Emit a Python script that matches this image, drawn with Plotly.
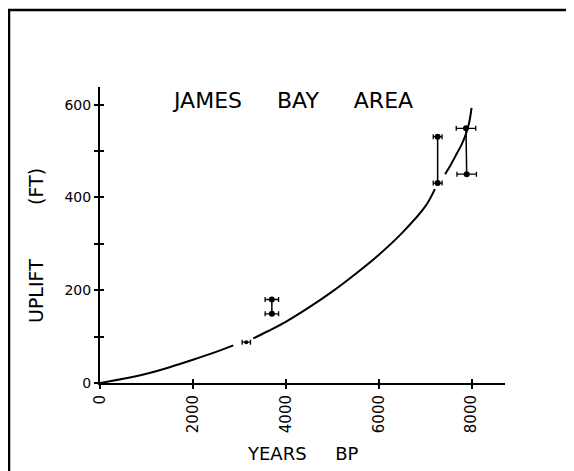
import plotly.graph_objects as go

# Fitted uplift curve, gaps as None
curve_years = [0, 500, 1000, 1500, 2000, 2500, 2870, None,
               3300, 3600, 4000, 4500, 5000, 5500, 6000, 6500, 7000, 7210, None,
               7430, 7550, 7680, 7790, 7880, 7950, 8000]
curve_uplift = [0, 9, 20, 34, 50, 67, 81, None,
                96, 111, 132, 163, 197, 235, 276, 323, 380, 418, None,
                450, 470, 494, 515, 537, 562, 593]

# Single dated point
single_years = [3150]
single_uplift = [88]
single_err = [90]

# Paired dated points (upper / lower)
pair_years_top = [3700, 7270, 7880]
pair_uplift_top = [180, 531, 549]
pair_years_bot = [3700, 7270, 7895]
pair_uplift_bot = [149, 431, 450]
pair_err = [145, 95, 210]

x_ticks = [0, 2000, 4000, 6000, 8000]
x_labels = ["0", "2000", "4000", "6000", "8000"]
y_ticks = [0, 100, 200, 300, 400, 500, 600]
y_labels = ["0", "", "200", "", "400", "", "600"]

# page has an 8px body margin: figure pixel = page pixel - 8
OFF = 8
W, H = 574 - OFF, 471 - OFF
L, R, T, B = 100 - OFF, 505 - OFF, 87 - OFF, 383 - OFF

fig = go.Figure()

fig.add_trace(go.Scatter(x=curve_years, y=curve_uplift, mode="lines",
                         line=dict(color="black", width=2, shape="spline", smoothing=1.0),
                         connectgaps=False, showlegend=False))

# vertical connectors between paired points
for xt, yt, xb, yb in zip(pair_years_top, pair_uplift_top, pair_years_bot, pair_uplift_bot):
    fig.add_trace(go.Scatter(x=[xt, xb], y=[yt, yb], mode="lines",
                             line=dict(color="black", width=1.5), showlegend=False))

err_style = dict(type="data", color="black", thickness=1.3, width=2.5)
fig.add_trace(go.Scatter(x=pair_years_top + pair_years_bot,
                         y=pair_uplift_top + pair_uplift_bot, mode="markers",
                         marker=dict(color="black", size=6),
                         error_x=dict(array=pair_err + pair_err, **err_style),
                         showlegend=False))
fig.add_trace(go.Scatter(x=single_years, y=single_uplift, mode="markers",
                         marker=dict(color="black", size=4),
                         error_x=dict(array=single_err, **err_style),
                         showlegend=False))

# dummy trace for the inner half of the crossing ticks
fig.add_trace(go.Scatter(x=[None], y=[None], xaxis="x2", yaxis="y2", showlegend=False))

font_tick = dict(family="DejaVu Sans", size=14, color="black")

fig.update_layout(
    width=W, height=H,
    margin=dict(l=L, r=W - R, t=T, b=H - B),
    paper_bgcolor="white", plot_bgcolor="white",
    xaxis=dict(range=[0, 8720], showgrid=False, zeroline=False,
               showline=True, linecolor="black", linewidth=2,
               tickmode="array", tickvals=x_ticks, ticktext=x_labels,
               ticks="outside", ticklen=4, tickwidth=1.5, tickcolor="black",
               tickangle=-90, tickfont=dict(family="DejaVu Sans", size=15, color="black")),
    yaxis=dict(range=[0, 638], showgrid=False, zeroline=False,
               showline=True, linecolor="black", linewidth=2,
               tickmode="array", tickvals=y_ticks, ticktext=y_labels,
               ticks="outside", ticklen=4, tickwidth=1.5, tickcolor="black",
               tickfont=font_tick),
    xaxis2=dict(range=[0, 8720], overlaying="x", anchor="y2", showgrid=False,
                zeroline=False, showticklabels=False, tickmode="array",
                tickvals=x_ticks[1:], ticks="inside", ticklen=4, tickwidth=1.5,
                tickcolor="black", side="bottom"),
    yaxis2=dict(range=[0, 638], overlaying="y", anchor="x2", showgrid=False,
                zeroline=False, showticklabels=False, tickmode="array",
                tickvals=y_ticks[1:], ticks="inside", ticklen=4, tickwidth=1.5,
                tickcolor="black", side="left"),
)

def px(xp): return (xp - OFF - L) / (R - L)
def py(yp): return (B - (yp - OFF)) / (B - T)

sp = "\u00a0"
annots = [
    ("JAMES" + sp * 5 + "BAY" + sp * 5 + "AREA", 292, 101, 0, 22),
    ("UPLIFT" + sp * 9 + "(FT)", 36, 246, -90, 19),
    ("YEARS" + sp * 5 + "BP", 303, 453, 0, 18),
]
for text, xp, yp, ang, size in annots:
    fig.add_annotation(text=text, x=px(xp), y=py(yp), xref="paper", yref="paper",
                       xanchor="center", yanchor="middle", textangle=ang,
                       showarrow=False,
                       font=dict(family="DejaVu Sans", size=size, color="black"))

# frame (top and left edges of the original figure border)
fig.add_shape(type="line", xref="paper", yref="paper",
              x0=px(8), x1=px(574), y0=py(10), y1=py(10), line=dict(color="black", width=2.5))
fig.add_shape(type="line", xref="paper", yref="paper",
              x0=px(9), x1=px(9), y0=py(10), y1=py(471), line=dict(color="black", width=2.5))

fig.write_html("out.html")
